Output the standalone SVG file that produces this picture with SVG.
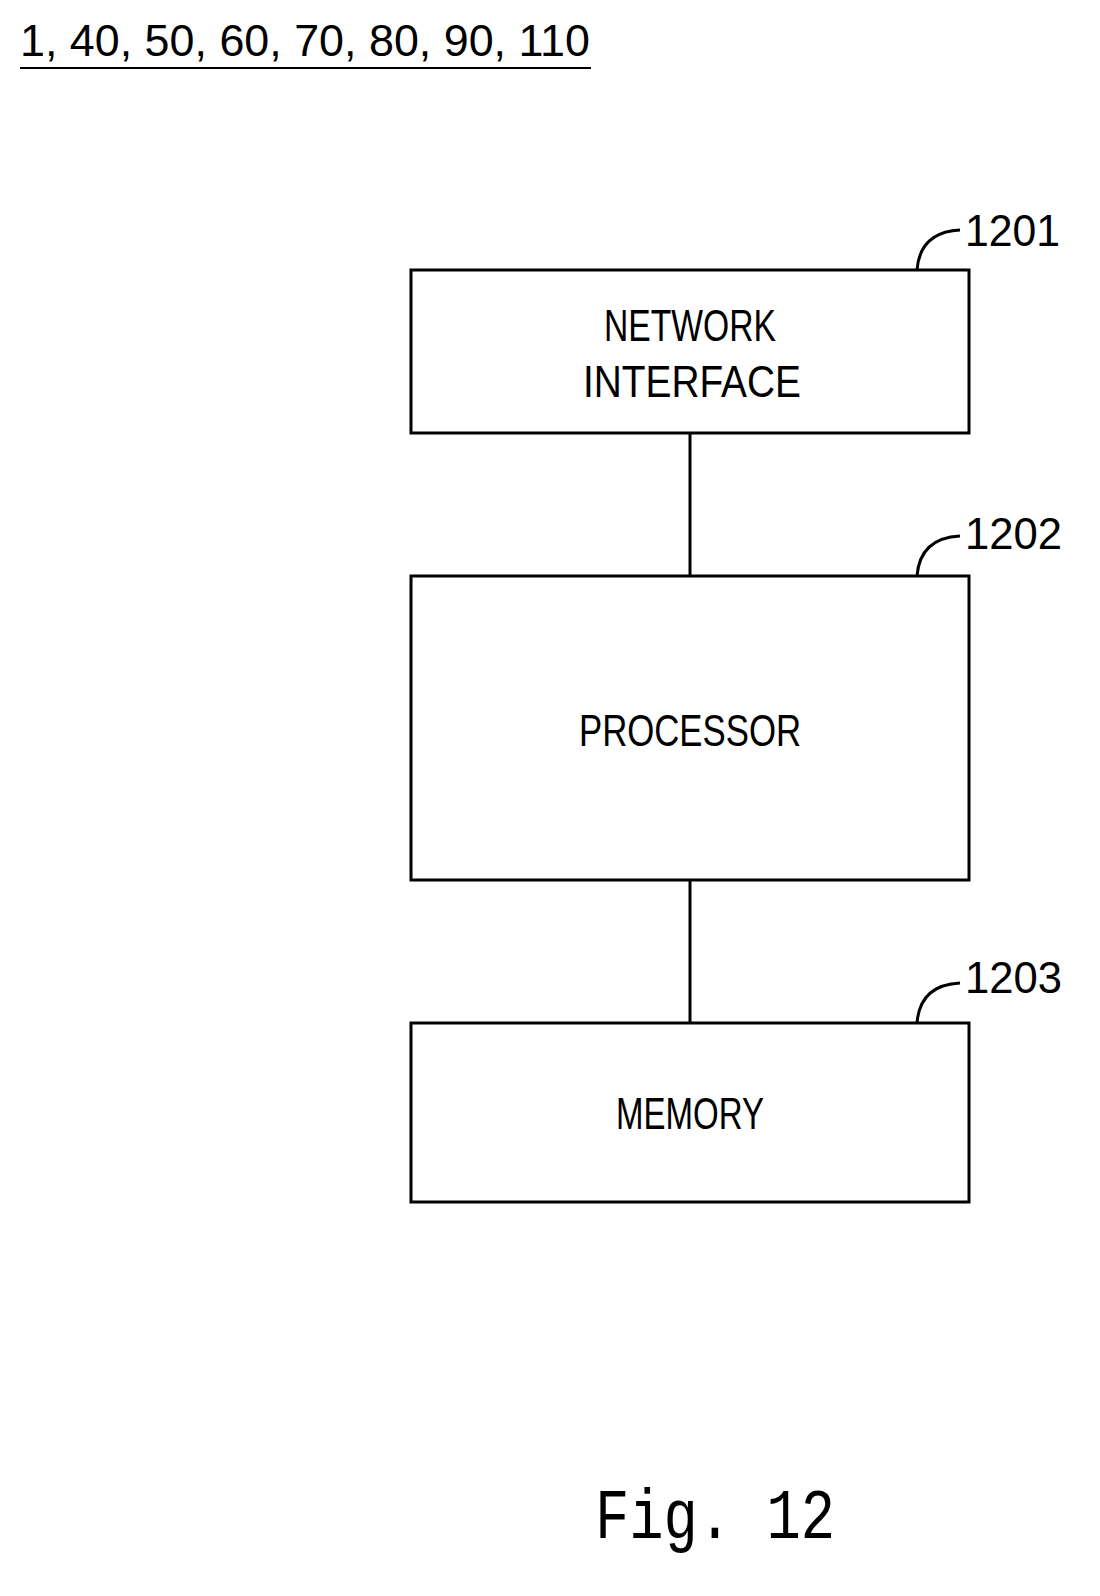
<svg xmlns="http://www.w3.org/2000/svg" width="1100" height="1596" viewBox="0 0 1100 1596">
<style>
.b{fill:#fff;stroke:#000;stroke-width:3}
.t{font-family:"Liberation Sans",sans-serif;font-size:44px;fill:#000;text-anchor:middle}
.r{font-family:"Liberation Sans",sans-serif;font-size:44px;fill:#000}
.l{fill:none;stroke:#000;stroke-width:3}
</style>
<rect width="1100" height="1596" fill="#fff"/>
<text class="r" x="20" y="56" textLength="570" lengthAdjust="spacingAndGlyphs">1, 40, 50, 60, 70, 80, 90, 110</text>
<line x1="20" y1="68" x2="591" y2="68" stroke="#000" stroke-width="2"/>
<g id="connectors">
<line class="l" x1="690" y1="433" x2="690" y2="576"/>
<line class="l" x1="690" y1="880" x2="690" y2="1023"/>
<path class="l" d="M917,270 Q920,232 960,230"/>
<path class="l" d="M917,576 Q920,538 960,536"/>
<path class="l" d="M917,1023 Q920,985 960,983"/>
</g>
<g id="n1201">
<rect class="b" x="411" y="270" width="558" height="163"/>
<text class="t" x="690" y="341" textLength="172" lengthAdjust="spacingAndGlyphs">NETWORK</text>
<text class="t" x="692" y="397" textLength="218" lengthAdjust="spacingAndGlyphs">INTERFACE</text>
<text class="r" x="965" y="246" textLength="95" lengthAdjust="spacingAndGlyphs">1201</text>
</g>
<g id="n1202">
<rect class="b" x="411" y="576" width="558" height="304"/>
<text class="t" x="690" y="746" textLength="222" lengthAdjust="spacingAndGlyphs">PROCESSOR</text>
<text class="r" x="965" y="549" textLength="97" lengthAdjust="spacingAndGlyphs">1202</text>
</g>
<g id="n1203">
<rect class="b" x="411" y="1023" width="558" height="179"/>
<text class="t" x="690" y="1129" textLength="148" lengthAdjust="spacingAndGlyphs">MEMORY</text>
<text class="r" x="965" y="993" textLength="97" lengthAdjust="spacingAndGlyphs">1203</text>
</g>
<text x="595" y="1538" font-family="Liberation Mono,monospace" font-size="70" textLength="240" lengthAdjust="spacingAndGlyphs">Fig. 12</text>
</svg>
